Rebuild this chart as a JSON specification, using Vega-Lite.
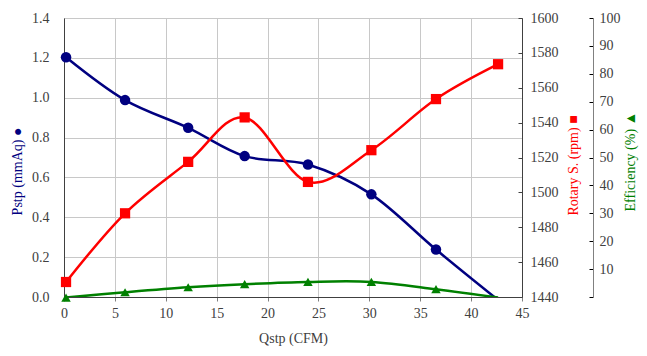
{
  "$schema": "https://vega.github.io/schema/vega-lite/v6.json",
  "width": 458,
  "height": 279,
  "autosize": {"type": "none"},
  "padding": {"left": 64, "top": 18, "right": 125, "bottom": 59},
  "background": "white",
  "config": {
    "font": "Liberation Serif",
    "view": {"stroke": "#808080", "strokeWidth": 1},
    "axis": {
      "labelFont": "Liberation Serif",
      "labelFontSize": 14,
      "labelColor": "#404040",
      "titleFont": "Liberation Serif",
      "titleFontSize": 14,
      "titleFontWeight": "normal",
      "gridColor": "#c8c8c8",
      "gridOpacity": 1,
      "domainColor": "#404040",
      "tickColor": "#808080"
    }
  },
  "data": {
    "values": [
      {"Q": 0.2, "Pstp": 1.203, "rpm": 1448.6, "eff": -0.2},
      {"Q": 6.0, "Pstp": 0.988, "rpm": 1488, "eff": 1.7},
      {"Q": 12.2, "Pstp": 0.849, "rpm": 1517.5, "eff": 3.5},
      {"Q": 17.75, "Pstp": 0.707, "rpm": 1543, "eff": 4.6},
      {"Q": 23.97, "Pstp": 0.665, "rpm": 1506, "eff": 5.4},
      {"Q": 30.2, "Pstp": 0.515, "rpm": 1524.2, "eff": 5.4},
      {"Q": 36.55, "Pstp": 0.238, "rpm": 1553.5, "eff": 2.8},
      {"Q": 42.65, "Pstp": -0.015, "rpm": 1573.5, "eff": -0.2}
    ]
  },
  "encoding": {
    "x": {
      "field": "Q",
      "type": "quantitative",
      "scale": {"domain": [0, 45], "nice": false},
      "axis": {
        "title": "Qstp (CFM)",
        "titleColor": "#404040",
        "values": [0, 5, 10, 15, 20, 25, 30, 35, 40, 45],
        "grid": true,
        "tickSize": 4,
        "labelPadding": 5,
        "labelFlush": false,
        "titleY": 41,
        "titleBaseline": "middle"
      }
    }
  },
  "layer": [
    {
      "encoding": {
        "y": {
          "field": "Pstp",
          "type": "quantitative",
          "scale": {"domain": [0, 1.4], "nice": false, "zero": false},
          "axis": {
            "title": "Pstp (mmAq) ●",
            "titleColor": "#000080",
            "values": [0, 0.2, 0.4, 0.6, 0.8, 1.0, 1.2, 1.4],
            "format": ".1f",
            "grid": true,
            "ticks": false,
            "labelPadding": 15,
            "titleAngle": -90,
            "titleX": -47,
            "titleY": 153,
            "titleAlign": "center",
            "titleBaseline": "middle"
          }
        }
      },
      "layer": [
        {"mark": {"type": "line", "color": "#000080", "strokeWidth": 2.5, "interpolate": "cardinal", "clip": true}},
        {"transform": [{"filter": "datum.Pstp > 0"}], "mark": {"type": "point", "shape": "circle", "filled": true, "opacity": 1, "color": "#000080", "size": 110}}
      ]
    },
    {
      "encoding": {
        "y": {
          "field": "rpm",
          "type": "quantitative",
          "scale": {"domain": [1440, 1600], "nice": false, "zero": false},
          "axis": {
            "orient": "right",
            "title": "Rotary S. (rpm) ■",
            "titleColor": "#ff0000",
            "format": "d",
            "values": [1440, 1460, 1480, 1500, 1520, 1540, 1560, 1580, 1600],
            "grid": false,
            "tickSize": -4,
            "tickColor": "#404040",
            "labelPadding": 12,
            "titleAngle": -90,
            "titleX": 51,
            "titleY": 147,
            "titleAlign": "center",
            "titleBaseline": "middle"
          }
        }
      },
      "layer": [
        {"mark": {"type": "line", "color": "#ff0000", "strokeWidth": 2.5, "interpolate": "cardinal", "clip": true}},
        {"mark": {"type": "point", "shape": "square", "filled": true, "opacity": 1, "color": "#ff0000", "size": 105}}
      ]
    },
    {
      "encoding": {
        "y": {
          "field": "eff",
          "type": "quantitative",
          "scale": {"domain": [0, 100], "nice": false, "zero": false},
          "axis": {
            "orient": "right",
            "offset": 71,
            "title": "Efficiency (%) ▲",
            "titleColor": "#008000",
            "values": [0, 10, 20, 30, 40, 50, 60, 70, 80, 90, 100],
            "labelExpr": "datum.value == 0 ? '' : datum.label",
            "grid": false,
            "domainColor": "#808080",
            "tickColor": "#000000",
            "tickSize": -4,
            "labelPadding": 10,
            "titleAngle": -90,
            "titleX": 37,
            "titleY": 143,
            "titleAlign": "center",
            "titleBaseline": "middle"
          }
        }
      },
      "layer": [
        {"mark": {"type": "line", "color": "#008000", "strokeWidth": 2.5, "interpolate": "cardinal", "clip": true}},
        {"transform": [{"filter": "datum.Q < 40"}], "mark": {"type": "point", "shape": "triangle-up", "filled": true, "opacity": 1, "color": "#008000", "size": 90}}
      ]
    }
  ],
  "resolve": {"scale": {"y": "independent"}}
}
